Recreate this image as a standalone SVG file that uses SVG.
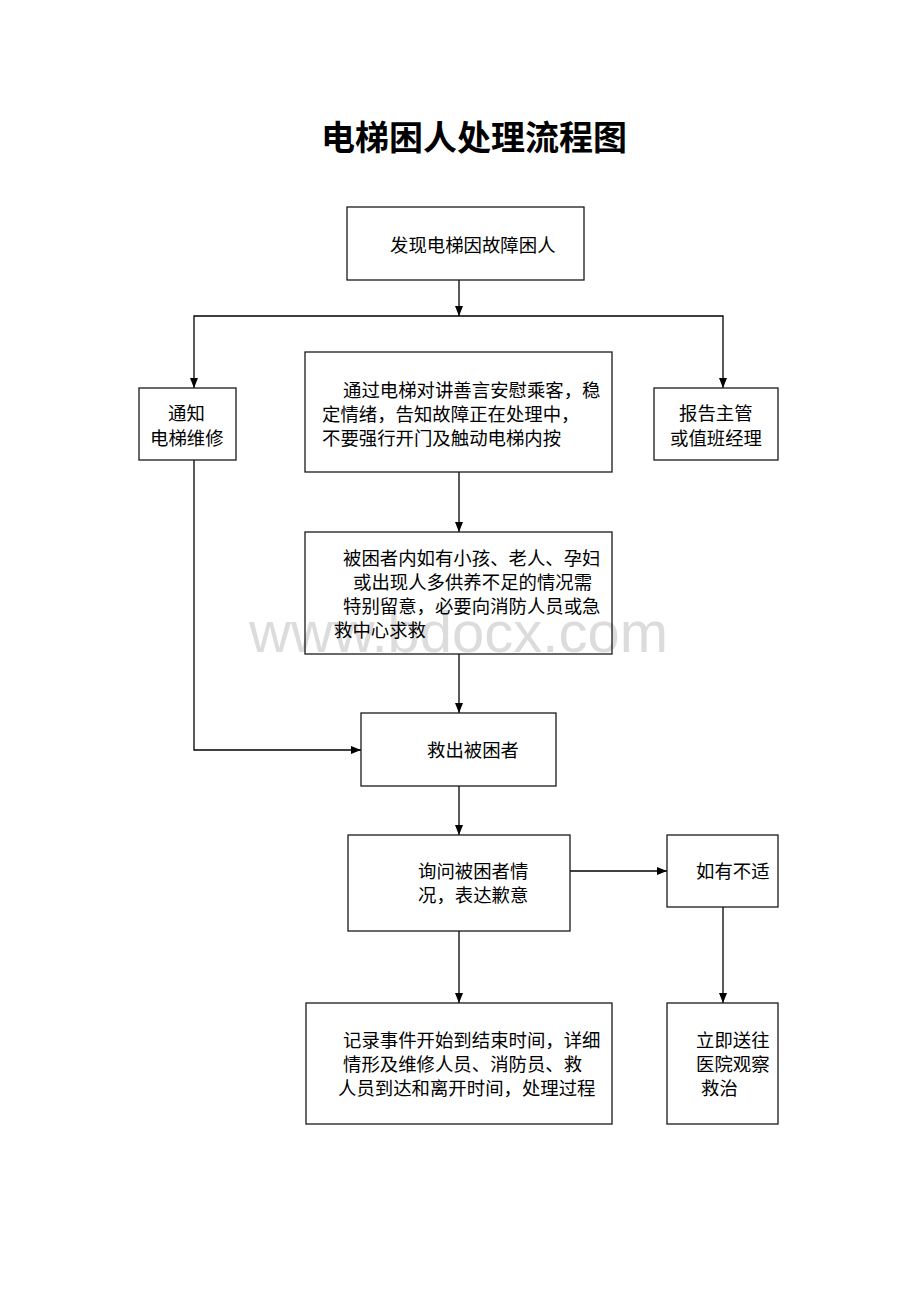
<svg xmlns="http://www.w3.org/2000/svg" width="920" height="1302" viewBox="0 0 920 1302">
<defs>
<style>
.box{fill:none;stroke:#1a1a1a;stroke-width:1.3}
.t{font-family:"Noto Sans CJK SC","Liberation Sans",sans-serif;font-size:18.4px;fill:#000}
.title{font-family:"Noto Sans CJK SC","Liberation Sans",sans-serif;font-size:34px;font-weight:bold;fill:#000}
.wm{font-family:"Liberation Sans",Arial,sans-serif;font-size:58px;fill:#dcdcdc}
.c{fill:none;stroke:#000;stroke-width:1.3}
</style>
<marker id="ah" markerUnits="userSpaceOnUse" markerWidth="10" markerHeight="8" refX="10" refY="4" orient="auto">
<path d="M0,0 L10,4 L0,8 z" fill="#000"/>
</marker>
</defs>
<rect width="920" height="1302" fill="#fff"/>
<text class="wm" x="249" y="652">www.bdocx.com</text>
<text class="title" x="474" y="150" text-anchor="middle">电梯困人处理流程图</text>

<g id="connectors">
<path class="c" d="M459,280 V316" marker-end="url(#ah)"/>
<path class="c" d="M459,316 H194 V388" marker-end="url(#ah)"/>
<path class="c" d="M459,316 H723 V388" marker-end="url(#ah)"/>
<path class="c" d="M459,472 V532" marker-end="url(#ah)"/>
<path class="c" d="M459,654 V713" marker-end="url(#ah)"/>
<path class="c" d="M194,460 V750 H361" marker-end="url(#ah)"/>
<path class="c" d="M459,786 V835" marker-end="url(#ah)"/>
<path class="c" d="M570,871 H667" marker-end="url(#ah)"/>
<path class="c" d="M459,931 V1003" marker-end="url(#ah)"/>
<path class="c" d="M723,907 V1003" marker-end="url(#ah)"/>
</g>

<g id="n-discover">
<rect class="box" x="347" y="207" width="237" height="73"/>
<text class="t" x="390" y="252">发现电梯因故障困人</text>
</g>
<g id="n-notify">
<rect class="box" x="139" y="388" width="97" height="72"/>
<text class="t" x="168" y="420">通知</text>
<text class="t" x="150" y="445">电梯维修</text>
</g>
<g id="n-comfort">
<rect class="box" x="305" y="352" width="307" height="120"/>
<text class="t" x="343" y="397">通过电梯对讲善言安慰乘客，稳</text>
<text class="t" x="322" y="421">定情绪，告知故障正在处理中，</text>
<text class="t" x="322" y="445">不要强行开门及触动电梯内按</text>
</g>
<g id="n-report">
<rect class="box" x="654" y="388" width="124" height="72"/>
<text class="t" x="679" y="420">报告主管</text>
<text class="t" x="670" y="445">或值班经理</text>
</g>
<g id="n-attention">
<rect class="box" x="305" y="532" width="307" height="122"/>
<text class="t" x="343" y="565">被困者内如有小孩、老人、孕妇</text>
<text class="t" x="353" y="589">或出现人多供养不足的情况需</text>
<text class="t" x="343" y="613">特别留意，必要向消防人员或急</text>
<text class="t" x="334" y="637">救中心求救</text>
</g>
<g id="n-rescue">
<rect class="box" x="361" y="713" width="195" height="73"/>
<text class="t" x="427" y="757">救出被困者</text>
</g>
<g id="n-inquire">
<rect class="box" x="348" y="835" width="222" height="96"/>
<text class="t" x="418" y="878">询问被困者情</text>
<text class="t" x="418" y="902">况，表达歉意</text>
</g>
<g id="n-unwell">
<rect class="box" x="667" y="835" width="111" height="72"/>
<text class="t" x="696" y="878">如有不适</text>
</g>
<g id="n-record">
<rect class="box" x="306" y="1003" width="306" height="121"/>
<text class="t" x="343" y="1047">记录事件开始到结束时间，详细</text>
<text class="t" x="343" y="1071">情形及维修人员、消防员、救</text>
<text class="t" x="338" y="1095">人员到达和离开时间，处理过程</text>
</g>
<g id="n-hospital">
<rect class="box" x="667" y="1003" width="111" height="121"/>
<text class="t" x="696" y="1047">立即送往</text>
<text class="t" x="696" y="1071">医院观察</text>
<text class="t" x="701" y="1095">救治</text>
</g>
</svg>
